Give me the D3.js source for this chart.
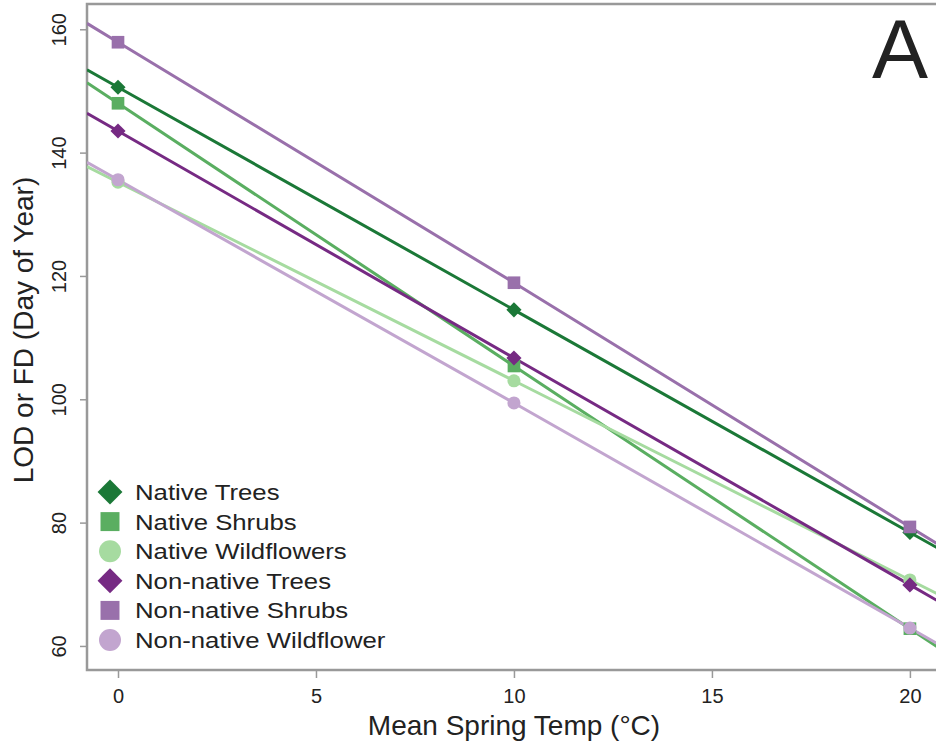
<!DOCTYPE html>
<html><head><meta charset="utf-8">
<script src="https://cdn.jsdelivr.net/npm/d3@7"></script>
<style>body{margin:0;background:#fff}svg{display:block}text{font-family:"Liberation Sans",Arial,sans-serif;fill:#222}</style>
</head><body>
<script>
const temps = [0, 10, 20];
const seriesNames = ["Native Trees","Native Shrubs","Native Wildflowers","Non-native Trees","Non-native Shrubs","Non-native Wildflower"];
const nativeTrees = [150.6, 114.5, 78.4];
const nativeShrubs = [148.0, 105.4, 62.8];
const nativeWildflowers = [135.2, 103.0, 70.7];
const nonNativeTrees = [143.5, 106.7, 69.9];
const nonNativeShrubs = [157.9, 118.9, 79.3];
const nonNativeWildflower = [135.6, 99.4, 62.9];
const xTicks = [0, 5, 10, 15, 20];
const yTicks = [60, 80, 100, 120, 140, 160];
const colors = ["#1b7837","#5aae61","#a6dba0","#762a83","#9970ab","#c2a5cf"];
const shapes = ["diamond","square","circle","diamond","square","circle"];
const values = [nativeTrees,nativeShrubs,nativeWildflowers,nonNativeTrees,nonNativeShrubs,nonNativeWildflower];

const W = 936, H = 746;
const L = 87, R = 940, T = 4, B = 670;
const svg = d3.select("body").append("svg").attr("width", W).attr("height", H);
const x = d3.scaleLinear().domain([-0.783, 20.76]).range([L, R]);
const y = d3.scaleLinear().domain([56.1, 164.1]).range([B, T]);

svg.append("clipPath").attr("id","clip").append("rect").attr("x",L).attr("y",T).attr("width",R-L).attr("height",B-T);

// axes
const gx = svg.append("g").attr("transform",`translate(0,${B})`)
  .call(d3.axisBottom(x).tickValues(xTicks).tickSize(8).tickPadding(8).tickFormat(d3.format("d")));
const gy = svg.append("g").attr("transform",`translate(${L},0)`)
  .call(d3.axisLeft(y).tickValues(yTicks).tickSize(7).tickPadding(0).tickFormat(d3.format("d")));
[gx, gy].forEach(g => {
  g.select(".domain").remove();
  g.selectAll(".tick line").attr("stroke","#999").attr("stroke-width",1.5);
  g.selectAll(".tick text").attr("font-size",20).attr("fill","#333");
});
gx.selectAll(".tick text").attr("dy","0.85em");
gy.selectAll(".tick text").attr("text-anchor","middle").attr("dy",0).attr("x",0).attr("y",0)
  .attr("transform", "translate(-21,0) rotate(-90)");

// box
svg.append("rect").attr("x",L).attr("y",T).attr("width",R-L).attr("height",B-T)
  .attr("fill","none").attr("stroke","#999").attr("stroke-width",2.5);

// lines
const plot = svg.append("g").attr("clip-path","url(#clip)");
const [x0, x1] = x.domain();
values.forEach((v, i) => {
  const pts = temps.map((t, j) => [t, v[j]]);
  const sL = (v[1]-v[0])/(temps[1]-temps[0]);
  const sR = (v[2]-v[1])/(temps[2]-temps[1]);
  const ext = [[x0, v[0] + sL*(x0-temps[0])], ...pts, [x1, v[2] + sR*(x1-temps[2])]];
  plot.append("path").datum(ext)
    .attr("d", d3.line().x(d=>x(d[0])).y(d=>y(d[1])))
    .attr("fill","none").attr("stroke",colors[i]).attr("stroke-width",3);
});

function sym(shape, size){
  const t = shape==="circle" ? d3.symbolCircle : d3.symbolSquare;
  return d3.symbol().type(t).size(size)();
}
function rot(shape){ return shape==="diamond" ? " rotate(45)" : ""; }
const sizes = {diamond:115, square:160, circle:135};
values.forEach((v, i) => {
  plot.selectAll(null).data(temps.map((t,j)=>[t,v[j]])).enter().append("path")
    .attr("d", sym(shapes[i], sizes[shapes[i]]))
    .attr("transform", d=>`translate(${x(d[0])},${y(d[1])})${rot(shapes[i])}`)
    .attr("fill", colors[i]);
});

// legend
const lsizes = {diamond:310, square:360, circle:380};
const lg = svg.append("g");
seriesNames.forEach((n, i) => {
  const cy = 492 + i*29.6;
  lg.append("path").attr("d", sym(shapes[i], lsizes[shapes[i]]))
    .attr("transform",`translate(110,${cy})${rot(shapes[i])}`).attr("fill",colors[i]);
  lg.append("text").attr("x",135).attr("y",cy+8).attr("font-size",23)
    .attr("transform",`translate(135,0) scale(1.12,1) translate(-135,0)`).text(n);
});

// axis titles
svg.append("text").attr("x", 514).attr("y", 735).attr("text-anchor","middle")
  .attr("font-size",28).text("Mean Spring Temp (°C)");
svg.append("text").attr("transform","translate(33,330) rotate(-90)").attr("text-anchor","middle")
  .attr("font-size",28).text("LOD or FD (Day of Year)");

// panel letter
svg.append("text").attr("x",872).attr("y",78).attr("font-size",84).attr("fill","#000").text("A");
</script>
</body></html>
